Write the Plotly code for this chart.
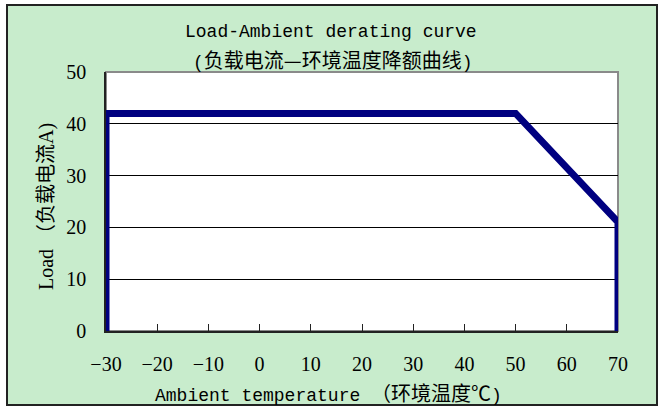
import plotly.graph_objects as go

# derating curve: ambient temperature vs load
temp = [-30, -30, 50, 70, 70]
load = [0, 42, 42, 21, 0]

x_ticks = [-30, -20, -10, 0, 10, 20, 30, 40, 50, 60, 70]
y_ticks = [0, 10, 20, 30, 40, 50]

green = "#C8ECCC"
navy = "#000080"
serif = "Liberation Serif, Noto Sans CJK SC"
mono = "Liberation Mono, Noto Sans CJK SC"
cjk = "Noto Sans CJK SC"

# plot area in pixels
W, H = 660, 410
L, T = 106, 72
R, B = W - 618, H - 331
pw, ph = W - L - R, H - T - B


def px(x):
    return (x - L) / pw


def py(y):
    return (H - B - y) / ph


def zh(s, size=20):
    return f'<span style="font-family:{cjk};font-size:{size}px">{s}</span>'


def label(text, x, y, family=mono, size=18, angle=0):
    return dict(text=text, xref="paper", yref="paper", x=px(x), y=py(y),
                xanchor="center", yanchor="middle", showarrow=False,
                textangle=angle, font=dict(family=family, size=size))


fig = go.Figure()
fig.add_trace(go.Scatter(
    x=temp, y=load, mode="lines",
    line=dict(color=navy, width=7),
    hoverinfo="x+y", showlegend=False,
))

fig.update_layout(
    width=W, height=H,
    margin=dict(l=L, r=R, t=T, b=B),
    paper_bgcolor="white",
    plot_bgcolor="rgba(0,0,0,0)",
    font=dict(family=serif, size=20, color="black"),
    shapes=[
        dict(type="rect", xref="paper", yref="paper",
             x0=px(7), x1=px(657), y0=py(405), y1=py(5),
             fillcolor=green, line=dict(color="#222", width=2), layer="below"),
        dict(type="rect", xref="paper", yref="paper",
             x0=0, x1=1, y0=0, y1=1,
             fillcolor="white", line=dict(color="#8a8a8a", width=2), layer="below"),
    ],
    annotations=[
        label("Load-Ambient derating curve", 331, 32),
        label("(" + zh("负载电流—环境温度降额曲线") + ")", 333, 59),
        label("Ambient temperature " + zh("（环境温度℃") + ")", 328, 392),
        label("Load " + zh("（负载电流") + "A)", 44, 207, family=serif, size=20, angle=-90),
    ],
    xaxis=dict(
        range=[-30, 70], tickvals=x_ticks, showgrid=False, zeroline=False,
        showline=True, linecolor="#222", linewidth=1.5,
        ticks="inside", ticklen=7, tickcolor="#222",
        ticklabelstandoff=14,
    ),
    yaxis=dict(
        range=[0, 50], tickvals=y_ticks, showgrid=True, gridcolor="black", gridwidth=1,
        zeroline=False, showline=True, linecolor="#222", linewidth=1.5,
        ticks="", ticklabelstandoff=14,
    ),
)

fig.write_html("out.html", config={"displayModeBar": False},
               post_script="document.body.style.margin='0';")
